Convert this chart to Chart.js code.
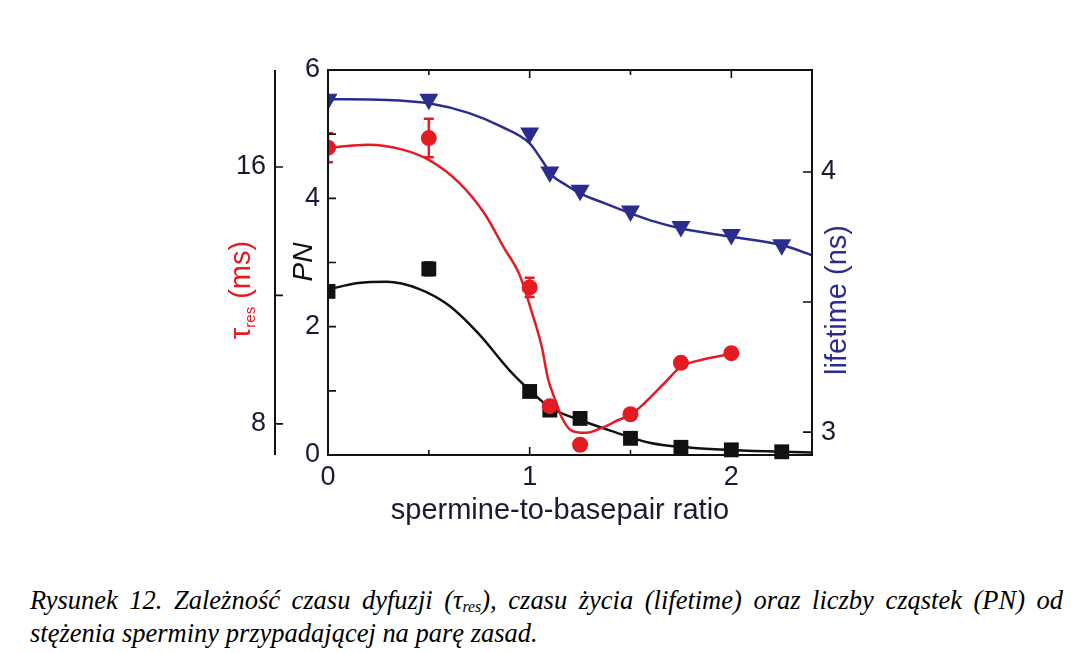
<!DOCTYPE html>
<html>
<head>
<meta charset="utf-8">
<script src="https://cdn.jsdelivr.net/npm/chart.js@4.4.1/dist/chart.umd.min.js"></script>
<style>
  html, body { margin: 0; padding: 0; background: #fff; }
  body { width: 1074px; height: 653px; position: relative; overflow: hidden; }
  #wrap { position: absolute; left: 0; top: 0; width: 1074px; height: 560px; }
  /* plot frame around the chart area (328..812 x 70..455) */
  #box {
    position: absolute; left: 327px; top: 69px; width: 486px; height: 387px;
    border: 2px solid #111; box-sizing: border-box; pointer-events: none;
  }
  .caption {
    position: absolute; left: 30px; width: 1092px;
    font-family: "Liberation Serif", "Times New Roman", serif;
    font-style: italic; font-size: 28px; line-height: 32px; color: #000;
    transform: scaleX(0.946); transform-origin: 0 0;
  }
  .caption sub { font-size: 0.6em; vertical-align: -0.2em; line-height: 0; }
  #cap1 { top: 584px; text-align: justify; text-align-last: justify; }
  #cap2 { top: 617px; }
</style>
</head>
<body>
<div id="wrap"><canvas id="chart" width="1074" height="560"></canvas></div>
<div id="box"></div>
<div class="caption" id="cap1">Rysunek 12. Zależność czasu dyfuzji (τ<sub>res</sub>), czasu życia (lifetime) oraz liczby cząstek (PN) od</div>
<div class="caption" id="cap2">stężenia sperminy przypadającej na parę zasad.</div>
<script>
// measured points (spermine : basepair ratio)
const lifeRatio = [0, 0.5, 1.0, 1.1, 1.25, 1.5, 1.75, 2.0, 2.25];
const lifeNs = [4.28, 4.28, 4.15, 4.0, 3.93, 3.85, 3.79, 3.76, 3.72];

const tauRatio = [0, 0.5, 1.0, 1.1, 1.25, 1.5, 1.75, 2.0];
const tauMs = [16.6, 16.9, 12.25, 8.55, 7.35, 8.3, 9.9, 10.2];
const tauErr = [0.45, 0.6, 0.3, 0, 0, 0, 0, 0];

const pnRatio = [0, 0.5, 1.0, 1.1, 1.25, 1.5, 1.75, 2.0, 2.25];
const pnVal = [2.55, 2.9, 0.99, 0.7, 0.57, 0.26, 0.12, 0.08, 0.05];
const pnErr = [0, 0.1, 0, 0, 0, 0, 0.05, 0, 0];

// fitted curves
const lifeFitX = [0, 0.29, 0.5, 0.7, 0.86, 1.0, 1.06, 1.11, 1.18, 1.25, 1.37, 1.5, 1.62, 1.75, 2.0, 2.25, 2.4];
const lifeFitY = [4.28, 4.277, 4.264, 4.226, 4.174, 4.11, 4.046, 3.988, 3.95, 3.918, 3.88, 3.841, 3.809, 3.783, 3.751, 3.719, 3.68];

const tauFitX = [0, 0.2, 0.37, 0.5, 0.65, 0.78, 0.87, 0.95, 1.01, 1.06, 1.09, 1.13, 1.16, 1.21, 1.28, 1.36, 1.44, 1.5, 1.57, 1.67, 1.75, 1.85, 2.0];
const tauFitY = [16.6, 16.69, 16.54, 16.22, 15.51, 14.51, 13.51, 12.64, 11.49, 10.4, 9.43, 8.69, 8.19, 7.78, 7.72, 7.88, 8.12, 8.28, 8.65, 9.28, 9.78, 9.99, 10.18];

const pnFitX = [0, 0.15, 0.29, 0.45, 0.6, 0.75, 0.9, 1.0, 1.1, 1.25, 1.4, 1.6, 1.8, 2.0, 2.25, 2.4];
const pnFitY = [2.58, 2.68, 2.7, 2.59, 2.33, 1.88, 1.32, 1.01, 0.74, 0.545, 0.38, 0.187, 0.114, 0.078, 0.05, 0.04];

// axis ticks
const ratioTicks = [0, 0.5, 1, 1.5, 2];
const ratioLabels = [0, 1, 2];
const pnTicks = [0, 1, 2, 3, 4, 5, 6];
const pnLabels = [0, 2, 4, 6];
const tauTicks = [8, 12, 16];
const tauLabels = [8, 16];
const lifeTicks = [3, 3.5, 4];
const lifeLabels = [3, 4];

const RED = '#e31b23';
const BLUE = '#2b2d8e';
const BLACK = '#111111';
const INK = '#1a1a33';
const SANS = '"Liberation Sans", Arial, sans-serif';
const tickFont = { family: SANS, size: 27 };
const noGrid = { display: false, drawTicks: false };

const pts = (xs, ys) => xs.map((x, i) => ({ x, y: ys[i] }));
const setTicks = vals => s => { s.ticks = vals.map(v => ({ value: v })); };
const onlyLabels = list => v => (list.includes(v) ? String(v) : '');

const errorBars = {
  id: 'errorBars',
  afterDatasetsDraw(chart) {
    const ctx = chart.ctx;
    const area = chart.chartArea;
    ctx.save();
    ctx.beginPath();
    ctx.rect(area.left, 0, chart.width - area.left, chart.height);
    ctx.clip();
    chart.data.datasets.forEach((ds, i) => {
      if (!ds.errors) return;
      const ys = chart.scales[chart.getDatasetMeta(i).yAxisID];
      ctx.strokeStyle = ds.borderColor;
      ctx.lineWidth = 2.5;
      ds.data.forEach((p, j) => {
        const e = ds.errors[j];
        if (!e) return;
        const px = chart.scales.x.getPixelForValue(p.x);
        const y1 = ys.getPixelForValue(p.y + e);
        const y2 = ys.getPixelForValue(p.y - e);
        ctx.beginPath();
        ctx.moveTo(px, y1); ctx.lineTo(px, y2);
        ctx.moveTo(px - 5, y1); ctx.lineTo(px + 5, y1);
        ctx.moveTo(px - 5, y2); ctx.lineTo(px + 5, y2);
        ctx.stroke();
      });
    });
    ctx.restore();
    ctx.beginPath();
  }
};

// tau spine, inward tick marks on the frame, right-pointing ticks on the spine
const tickMarks = {
  id: 'tickMarks',
  afterDraw(chart) {
    const ctx = chart.ctx;
    const area = chart.chartArea;
    const sx = chart.scales.x, spn = chart.scales.pn, stau = chart.scales.tau, slife = chart.scales.life;
    const tx = stau.right;
    ctx.save();
    ctx.strokeStyle = BLACK;
    ctx.lineWidth = 2;
    ctx.beginPath();
    ctx.moveTo(tx, area.top);
    ctx.lineTo(tx, area.bottom);
    ctx.stroke();

    ctx.lineWidth = 1.6;
    ctx.beginPath();
    sx.ticks.forEach(t => {
      const px = sx.getPixelForValue(t.value);
      const len = ratioLabels.includes(t.value) ? 8 : 5;
      ctx.moveTo(px, area.bottom); ctx.lineTo(px, area.bottom - len);
      ctx.moveTo(px, area.top); ctx.lineTo(px, area.top + len);
    });
    spn.ticks.forEach(t => {
      const py = spn.getPixelForValue(t.value);
      ctx.moveTo(area.left, py); ctx.lineTo(area.left + 8, py);
    });
    slife.ticks.forEach(t => {
      const py = slife.getPixelForValue(t.value);
      ctx.moveTo(area.right, py); ctx.lineTo(area.right - 9, py);
    });
    stau.ticks.forEach(t => {
      const py = stau.getPixelForValue(t.value);
      ctx.moveTo(tx, py); ctx.lineTo(tx + 8, py);
    });
    ctx.stroke();
    ctx.restore();
  }
};

const axisTitles = {
  id: 'axisTitles',
  afterDraw(chart) {
    const ctx = chart.ctx;
    ctx.save();
    ctx.textBaseline = 'alphabetic';

    ctx.font = '29px ' + SANS;
    ctx.fillStyle = INK;
    ctx.textAlign = 'center';
    ctx.fillText('spermine-to-basepair ratio', 560, 519);

    ctx.save();
    ctx.translate(312, 262);
    ctx.rotate(-Math.PI / 2);
    ctx.font = 'italic 28px ' + SANS;
    ctx.fillStyle = BLACK;
    ctx.fillText('PN', 0, 0);
    ctx.restore();

    ctx.save();
    ctx.translate(846, 300);
    ctx.rotate(-Math.PI / 2);
    ctx.font = '29px ' + SANS;
    ctx.fillStyle = BLUE;
    ctx.fillText('lifetime (ns)', 0, 0);
    ctx.restore();

    // tau with "res" subscript
    ctx.save();
    ctx.translate(250, 290);
    ctx.rotate(-Math.PI / 2);
    ctx.fillStyle = RED;
    ctx.textAlign = 'left';
    const big = '29px ' + SANS, small = '15px ' + SANS;
    ctx.font = big;
    const wTau = ctx.measureText('τ').width;
    const wRest = ctx.measureText(' (ms)').width;
    ctx.font = small;
    const wSub = ctx.measureText('res').width;
    let cx = -(wTau + wSub + wRest) / 2;
    ctx.font = big;
    ctx.fillText('τ', cx, 0);
    cx += wTau;
    ctx.font = small;
    ctx.fillText('res', cx, 5);
    cx += wSub;
    ctx.font = big;
    ctx.fillText(' (ms)', cx, 0);
    ctx.restore();

    ctx.restore();
  }
};

new Chart(document.getElementById('chart'), {
  type: 'line',
  data: {
    datasets: [
      {
        label: 'τres', data: pts(tauRatio, tauMs), yAxisID: 'tau', errors: tauErr,
        showLine: false, pointStyle: 'circle', pointRadius: 8,
        backgroundColor: RED, borderColor: RED, borderWidth: 0, order: 0
      },
      {
        label: 'PN', data: pts(pnRatio, pnVal), yAxisID: 'pn', errors: pnErr,
        showLine: false, pointStyle: 'rect', pointRadius: 10.5,
        backgroundColor: BLACK, borderColor: BLACK, borderWidth: 0, order: 1
      },
      {
        label: 'lifetime', data: pts(lifeRatio, lifeNs), yAxisID: 'life',
        showLine: false, pointStyle: 'triangle', rotation: 180, pointRadius: 11,
        backgroundColor: BLUE, borderColor: BLUE, borderWidth: 0, order: 2
      },
      {
        label: 'τres fit', data: pts(tauFitX, tauFitY), yAxisID: 'tau',
        borderColor: RED, borderWidth: 2.5, pointRadius: 0, cubicInterpolationMode: 'monotone', order: 3
      },
      {
        label: 'PN fit', data: pts(pnFitX, pnFitY), yAxisID: 'pn',
        borderColor: BLACK, borderWidth: 2.5, pointRadius: 0, cubicInterpolationMode: 'monotone', order: 4
      },
      {
        label: 'lifetime fit', data: pts(lifeFitX, lifeFitY), yAxisID: 'life',
        borderColor: BLUE, borderWidth: 2.5, pointRadius: 0, cubicInterpolationMode: 'monotone', order: 5
      }
    ]
  },
  options: {
    responsive: false,
    animation: false,
    clip: { left: 0, top: false, right: 0, bottom: false },
    layout: { padding: { left: 200, right: 202, top: 70, bottom: 45 } },
    plugins: { legend: { display: false }, tooltip: { enabled: false } },
    scales: {
      x: {
        type: 'linear', position: 'bottom', min: 0, max: 2.4,
        afterBuildTicks: setTicks(ratioTicks),
        afterFit: s => { s.height = 60; },
        grid: noGrid, border: { display: false },
        ticks: { callback: onlyLabels(ratioLabels), font: tickFont, color: INK, padding: 6, maxRotation: 0, autoSkip: false }
      },
      pn: {
        type: 'linear', position: 'left', min: 0, max: 6, weight: 0,
        afterBuildTicks: setTicks(pnTicks),
        afterFit: s => { s.width = 53; },
        grid: noGrid, border: { display: false },
        ticks: { callback: onlyLabels(pnLabels), font: tickFont, color: INK, padding: 8, autoSkip: false }
      },
      tau: {
        type: 'linear', position: 'left', min: 7.03, max: 19.02, weight: 1,
        afterBuildTicks: setTicks(tauTicks),
        afterFit: s => { s.width = 75; },
        grid: noGrid, border: { display: false },
        ticks: { callback: onlyLabels(tauLabels), font: tickFont, color: INK, padding: 9, autoSkip: false }
      },
      life: {
        type: 'linear', position: 'right', min: 2.912, max: 4.392,
        afterBuildTicks: setTicks(lifeTicks),
        afterFit: s => { s.width = 60; },
        grid: noGrid, border: { display: false },
        ticks: { callback: onlyLabels(lifeLabels), font: tickFont, color: INK, padding: 9, autoSkip: false }
      }
    }
  },
  plugins: [errorBars, tickMarks, axisTitles]
});
</script>
</body>
</html>
